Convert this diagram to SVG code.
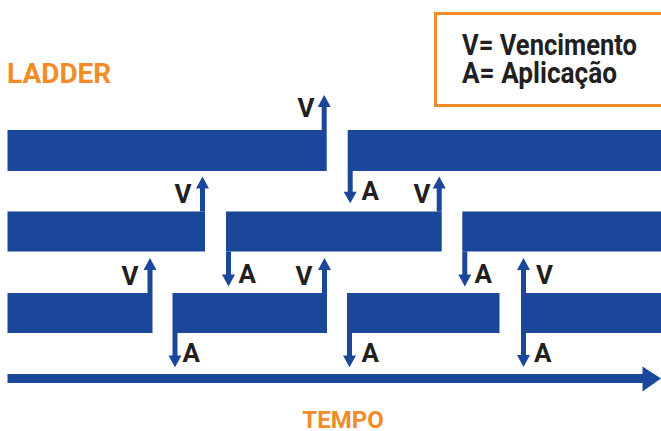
<svg xmlns="http://www.w3.org/2000/svg" xmlns:xlink="http://www.w3.org/1999/xlink" width="661" height="431" viewBox="0 0 661 431">
  <style>
    .bar { fill: #1B479B; }
    .arrow { fill: #1B479B; }
    .lbl { font-family: Roboto, "Liberation Sans", sans-serif; font-weight: 700; font-size: 26px; fill: #231F20; }
    .title { font-family: Roboto, "Liberation Sans", sans-serif; font-weight: 700; fill: #F28C28; }
    .legend { font-family: Roboto, "Liberation Sans", sans-serif; font-weight: 700; font-size: 29px; fill: #231F20; }
  </style>
  <defs>
    <!-- upward arrow, base at origin, tip 35px above -->
    <path id="up" d="M-2.5,0 V-23 H-6.5 L0,-35 L6.5,-23 H2.5 V0 Z"/>
  </defs>

  <rect width="661" height="431" fill="#ffffff"/>

  <text class="title" x="7" y="82.5" font-size="28">LADDER</text>
  <text class="title" x="343" y="427.5" font-size="24" text-anchor="middle">TEMPO</text>

  <g id="legend">
    <rect x="435.5" y="13.5" width="240" height="92" fill="none" stroke="#F28C28" stroke-width="3"/>
    <text class="legend" x="462" y="55" textLength="175" lengthAdjust="spacingAndGlyphs">V= Vencimento</text>
    <text class="legend" x="462" y="82.5" textLength="155" lengthAdjust="spacingAndGlyphs">A= Aplicação</text>
  </g>

  <!-- row 1 -->
  <g id="r1a"><rect class="bar" x="7.5" y="130" width="319.2" height="41"/></g>
  <g id="r1b"><rect class="bar" x="347.7" y="130" width="313.3" height="41"/></g>
  <!-- row 2 -->
  <g id="r2a"><rect class="bar" x="7.5" y="211.5" width="197.5" height="40"/></g>
  <g id="r2b"><rect class="bar" x="226" y="211.5" width="215.7" height="40"/></g>
  <g id="r2c"><rect class="bar" x="462.3" y="211.5" width="198.7" height="40"/></g>
  <!-- row 3 -->
  <g id="r3a"><rect class="bar" x="7.5" y="293" width="145" height="40"/></g>
  <g id="r3b"><rect class="bar" x="172.5" y="293" width="154.5" height="40"/></g>
  <g id="r3c"><rect class="bar" x="347" y="293" width="152.5" height="40"/></g>
  <g id="r3d"><rect class="bar" x="521" y="293" width="140" height="40"/></g>

  <g id="connectors" class="arrow">
    <!-- time axis -->
    <rect x="7.5" y="374" width="637" height="9"/>
    <polygon points="642.5,366.5 661,378.5 642.5,391.5"/>

    <!-- V: maturities (up) -->
    <use xlink:href="#up" transform="translate(324.2,130)"/>
    <use xlink:href="#up" transform="translate(202.5,211.5)"/>
    <use xlink:href="#up" transform="translate(439.2,211.5)"/>
    <use xlink:href="#up" transform="translate(150,293)"/>
    <use xlink:href="#up" transform="translate(324.5,293)"/>

    <!-- A: investments (down) -->
    <use xlink:href="#up" transform="translate(350.2,170) scale(1,-0.95)"/>
    <use xlink:href="#up" transform="translate(228.5,251.5) scale(1,-1)"/>
    <use xlink:href="#up" transform="translate(464.8,251.5) scale(1,-1)"/>
    <use xlink:href="#up" transform="translate(175,333) scale(1,-0.98)"/>
    <use xlink:href="#up" transform="translate(349.5,333) scale(1,-0.98)"/>

    <!-- combined maturity / investment -->
    <path d="M523.5,258 L530,270 H526 V355 H530 L523.5,367 L517,355 H521 V270 H517 Z"/>

    <text class="lbl" x="297.5" y="116.5">V</text>
    <text class="lbl" x="361.5" y="199.5">A</text>
    <text class="lbl" x="174.5" y="202.5">V</text>
    <text class="lbl" x="238.5" y="283">A</text>
    <text class="lbl" x="413.5" y="202.5">V</text>
    <text class="lbl" x="474.5" y="283">A</text>
    <text class="lbl" x="121.5" y="284.5">V</text>
    <text class="lbl" x="295.5" y="284.5">V</text>
    <text class="lbl" x="536" y="284">V</text>
    <text class="lbl" x="182.5" y="362">A</text>
    <text class="lbl" x="361.5" y="362">A</text>
    <text class="lbl" x="534" y="362">A</text>
  </g>
</svg>
